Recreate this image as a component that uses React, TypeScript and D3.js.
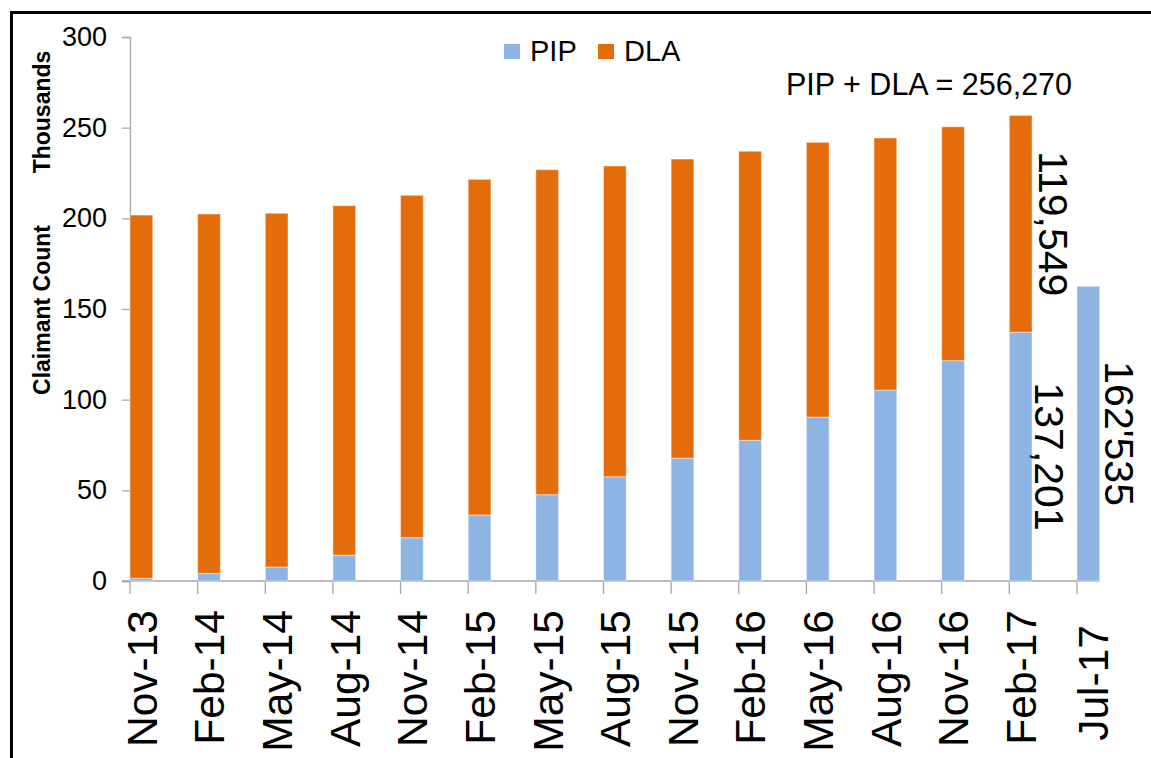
import React, { useEffect, useRef } from "react"
import * as d3 from "d3"

const categories = [
  "Nov-13", "Feb-14", "May-14", "Aug-14", "Nov-14", "Feb-15", "May-15", "Aug-15",
  "Nov-15", "Feb-16", "May-16", "Aug-16", "Nov-16", "Feb-17", "Jul-17",
]
// thousands of claimants
const pipValues = [1.5, 4.2, 7.7, 14.3, 23.9, 36.4, 47.6, 57.5, 67.7, 77.6, 90.4, 105.3, 121.5, 137.201, 162.535]
const dlaValues = [200.3, 198.2, 195.1, 192.7, 188.8, 185.1, 179.2, 171.4, 165.0, 159.4, 151.5, 139.0, 129.0, 119.549, 0]
const seriesNames = ["PIP", "DLA"]
const yTicks = [0, 50, 100, 150, 200, 250, 300]
const noteCategories = ["Feb-17", "Feb-17", "Jul-17"]
const noteSeries = ["DLA", "PIP", "PIP"]
const noteTexts = ["119,549", "137,201", "162'535"]
const totalNote = "PIP + DLA = 256,270"

const colors = { PIP: "#8EB4E3", DLA: "#E46C0A" }
const font = "'Liberation Sans', Arial, Helvetica, sans-serif"

const Chart = () => {
  const chart = useRef(null)

  useEffect(() => {
    const root = d3.select(chart.current)
    root.selectAll("*").remove()

    const svgWidth = 1151
    const svgHeight = 758
    const left = 130
    const top = 37
    const bottom = 581
    const step = 67.64
    const pad = 0.664

    const svg = root
      .append("svg")
      .attr("width", svgWidth)
      .attr("height", svgHeight)
      .style("position", "absolute")
      .style("left", 0)
      .style("top", 0)
      .style("font-family", font)

    svg.append("rect").attr("width", svgWidth).attr("height", svgHeight).attr("fill", "#fff")

    // frame around the figure
    svg
      .append("path")
      .attr("d", `M11.5,${svgHeight} V12.5 H${svgWidth}`)
      .attr("fill", "none")
      .attr("stroke", "#000")
      .attr("stroke-width", 3)

    const x = d3
      .scaleBand()
      .domain(categories)
      .range([left, left + step * (categories.length - pad)])
      .paddingInner(pad)
      .paddingOuter(0)
      .align(0)

    const y = d3.scaleLinear().domain([0, 300]).range([bottom, top])

    const table = categories.map((c, i) => ({ cat: c, PIP: pipValues[i], DLA: dlaValues[i] }))
    const stacked = d3.stack().keys(seriesNames)(table)

    // y axis
    const yAxis = d3.axisLeft(y).tickValues(yTicks).tickSize(8).tickSizeOuter(8).tickPadding(15)
    const gy = svg.append("g").attr("transform", `translate(${left},0)`).call(yAxis)
    gy.selectAll("path, line").attr("stroke", "#a6a6a6").attr("stroke-width", 1.3)
    gy.selectAll("text")
      .attr("fill", "#000")
      .style("font-size", "27px")
      .style("font-family", font)

    // x axis
    svg
      .append("line")
      .attr("x1", left - 8)
      .attr("x2", x.range()[1])
      .attr("y1", bottom)
      .attr("y2", bottom)
      .attr("stroke", "#a6a6a6")
      .attr("stroke-width", 1.3)

    svg
      .append("g")
      .selectAll("line")
      .data(categories)
      .enter()
      .append("line")
      .attr("x1", (d) => x(d))
      .attr("x2", (d) => x(d))
      .attr("y1", bottom)
      .attr("y2", bottom + 13)
      .attr("stroke", "#a6a6a6")
      .attr("stroke-width", 1.3)

    svg
      .append("g")
      .selectAll("text")
      .data(categories)
      .enter()
      .append("text")
      .attr("transform", (d, i) => {
        const last = i === categories.length - 1
        const cx = x(d) + x.bandwidth() / 2 + (last ? 4 : 0)
        return `translate(${cx},${last ? 625 : 610}) rotate(-90)`
      })
      .attr("dy", "0.36em")
      .attr("text-anchor", "end")
      .style("font-size", "42.5px")
      .text((d) => d)

    // bars
    svg
      .append("g")
      .selectAll("g")
      .data(stacked)
      .enter()
      .append("g")
      .attr("fill", (s) => colors[s.key])
      .selectAll("rect")
      .data((s) => s)
      .enter()
      .append("rect")
      .attr("x", (d) => x(d.data.cat))
      .attr("width", x.bandwidth())
      .attr("y", (d) => y(d[1]))
      .attr("height", (d) => y(d[0]) - y(d[1]))
      .attr("stroke", "rgba(255,255,255,0.45)")
      .attr("stroke-width", 1)

    // rotated value notes beside the last bars
    noteTexts.forEach((t, i) => {
      const s = stacked.find((k) => k.key === noteSeries[i])
      const idx = categories.indexOf(noteCategories[i])
      const seg = s[idx]
      const cy = (y(seg[0]) + y(seg[1])) / 2
      const bx = x(noteCategories[i]) + x.bandwidth() + (i === 0 ? 7 : i === 1 ? 3 : 5)
      svg
        .append("text")
        .attr("transform", `translate(${bx},${cy}) rotate(90)`)
        .attr("text-anchor", "middle")
        .style("font-size", "41px")
        .text(t)
    })

    // legend
    const legendX = [504, 598]
    seriesNames.forEach((n, i) => {
      svg
        .append("rect")
        .attr("x", legendX[i])
        .attr("y", 44)
        .attr("width", 16)
        .attr("height", 15)
        .attr("fill", colors[n])
      svg
        .append("text")
        .attr("x", legendX[i] + 26)
        .attr("y", 61)
        .style("font-size", "29px")
        .text(n)
    })

    svg
      .append("text")
      .attr("x", 786)
      .attr("y", 95)
      .style("font-size", "30.5px")
      .text(totalNote)

    // axis titles
    svg
      .append("text")
      .attr("transform", `translate(50,112) rotate(-90)`)
      .attr("text-anchor", "middle")
      .style("font-size", "23px")
      .style("font-weight", "bold")
      .text("Thousands")

    svg
      .append("text")
      .attr("transform", `translate(50,310) rotate(-90)`)
      .attr("text-anchor", "middle")
      .style("font-size", "23px")
      .style("font-weight", "bold")
      .text("Claimant Count")
  }, [])

  return <div ref={chart} />
}

export default function App() {
  return <Chart />
}
